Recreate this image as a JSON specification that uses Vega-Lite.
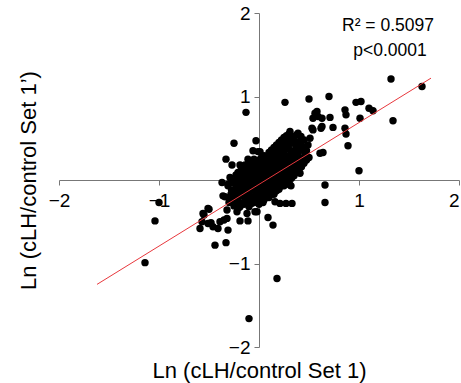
{
  "$schema": "https://vega.github.io/schema/vega-lite/v6.json",
  "width": 400,
  "height": 334,
  "autosize": {"type": "none"},
  "padding": {"left": 59, "top": 13, "right": 2, "bottom": 36},
  "background": "white",
  "config": {"view": {"stroke": null}, "font": "Liberation Sans"},
  "datasets": {
    "pts": [
      {"x":-0.13,"y":0.81},{"x":0.26,"y":0.93},{"x":0.50,"y":0.97},{"x":0.70,"y":1.00},{"x":1.32,"y":1.21},{"x":1.63,"y":1.12},{"x":1.34,"y":0.71},{"x":1.00,"y":0.11},{"x":0.97,"y":0.93},{"x":1.02,"y":0.94},{"x":0.86,"y":0.84},{"x":0.87,"y":0.78},{"x":1.10,"y":0.86},{"x":1.14,"y":0.83},{"x":1.01,"y":0.74},{"x":0.86,"y":0.62},{"x":0.87,"y":0.55},{"x":0.89,"y":0.41},{"x":0.71,"y":0.75},{"x":0.74,"y":0.63},{"x":0.62,"y":0.62},{"x":0.58,"y":0.82},{"x":0.54,"y":0.74},{"x":0.63,"y":0.74},{"x":0.53,"y":0.62},{"x":0.61,"y":0.32},{"x":0.64,"y":0.33},{"x":0.51,"y":0.50},{"x":0.66,"y":-0.06},{"x":0.66,"y":-0.27},{"x":-0.25,"y":0.44},{"x":-0.03,"y":0.47},{"x":-0.11,"y":0.25},{"x":-0.33,"y":0.25},{"x":-0.37,"y":-0.03},{"x":-0.19,"y":0.18},{"x":-1.0,"y":-0.27},{"x":-1.04,"y":-0.49},{"x":-1.14,"y":-0.99},{"x":0.18,"y":-1.18},{"x":-0.10,"y":-1.66},{"x":-0.44,"y":-0.78},{"x":-0.33,"y":-0.75},{"x":-0.59,"y":-0.58},{"x":-0.55,"y":-0.42},{"x":-0.50,"y":-0.35},{"x":-0.48,"y":-0.51},{"x":-0.46,"y":-0.56},{"x":-0.41,"y":-0.58},{"x":-0.31,"y":-0.60},{"x":-0.35,"y":-0.48},{"x":-0.36,"y":-0.19},{"x":-0.32,"y":-0.36},{"x":-0.22,"y":-0.38},{"x":-0.19,"y":-0.49},{"x":-0.11,"y":-0.49},{"x":-0.12,"y":-0.40},{"x":-0.02,"y":-0.38},{"x":0.09,"y":-0.45},{"x":0.14,"y":-0.54},{"x":0.16,"y":-0.26},{"x":0.27,"y":-0.28},{"x":0.32,"y":-0.07},{"x":0.04,"y":-0.27},{"x":0.56,"y":0.80},{"x":0.59,"y":0.76},{"x":0.63,"y":0.64},{"x":0.54,"y":0.60},{"x":-0.27,"y":0.18},{"x":-0.06,"y":0.35},{"x":-0.01,"y":0.34},{"x":-0.22,"y":0.04},{"x":-0.14,"y":0.10},{"x":-0.31,"y":-0.05},{"x":-0.34,"y":-0.20},{"x":-0.51,"y":-0.34},{"x":-0.56,"y":-0.40},{"x":-0.39,"y":-0.50},{"x":-0.32,"y":-0.46},{"x":-0.24,"y":-0.28},{"x":-0.19,"y":-0.32},{"x":-0.04,"y":-0.38},{"x":-0.57,"y":-0.50},{"x":-0.51,"y":-0.52},{"x":0.41,"y":0.08},{"x":0.33,"y":-0.28},{"x":0.21,"y":-0.28},{"x":0.31,"y":-0.06},{"x":0.01,"y":0.34},{"x":0.45,"y":0.48},{"x":0.39,"y":0.56},{"x":0.31,"y":0.58},
      {"x":-0.30,"y":-0.27},{"x":-0.28,"y":-0.17},{"x":-0.31,"y":-0.07},{"x":-0.29,"y":0.03},
      {"x":-0.25,"y":-0.31},{"x":-0.24,"y":-0.21},{"x":-0.26,"y":-0.13},{"x":-0.25,"y":-0.04},{"x":-0.23,"y":0.06},
      {"x":-0.20,"y":-0.33},{"x":-0.21,"y":-0.24},{"x":-0.19,"y":-0.15},{"x":-0.20,"y":-0.07},{"x":-0.18,"y":0.01},{"x":-0.21,"y":0.09},
      {"x":-0.15,"y":-0.29},{"x":-0.14,"y":-0.22},{"x":-0.16,"y":-0.13},{"x":-0.15,"y":-0.05},{"x":-0.13,"y":0.03},{"x":-0.16,"y":0.11},{"x":-0.14,"y":0.18},
      {"x":-0.10,"y":-0.32},{"x":-0.09,"y":-0.24},{"x":-0.11,"y":-0.16},{"x":-0.10,"y":-0.08},{"x":-0.08,"y":0.0},{"x":-0.11,"y":0.07},{"x":-0.09,"y":0.14},{"x":-0.10,"y":0.21},
      {"x":-0.05,"y":-0.27},{"x":-0.04,"y":-0.19},{"x":-0.06,"y":-0.11},{"x":-0.05,"y":-0.03},{"x":-0.03,"y":0.04},{"x":-0.06,"y":0.11},{"x":-0.04,"y":0.18},{"x":-0.05,"y":0.25},
      {"x":0.0,"y":-0.29},{"x":0.01,"y":-0.21},{"x":-0.01,"y":-0.13},{"x":0.0,"y":-0.05},{"x":0.02,"y":0.03},{"x":-0.01,"y":0.10},{"x":0.01,"y":0.17},{"x":0.0,"y":0.24},
      {"x":0.05,"y":-0.24},{"x":0.06,"y":-0.16},{"x":0.04,"y":-0.08},{"x":0.05,"y":0.0},{"x":0.07,"y":0.07},{"x":0.04,"y":0.14},{"x":0.06,"y":0.21},{"x":0.05,"y":0.29},
      {"x":0.10,"y":-0.21},{"x":0.11,"y":-0.13},{"x":0.09,"y":-0.05},{"x":0.10,"y":0.03},{"x":0.12,"y":0.11},{"x":0.09,"y":0.18},{"x":0.11,"y":0.26},{"x":0.10,"y":0.33},
      {"x":0.15,"y":-0.17},{"x":0.16,"y":-0.09},{"x":0.14,"y":-0.01},{"x":0.15,"y":0.07},{"x":0.17,"y":0.15},{"x":0.14,"y":0.23},{"x":0.16,"y":0.31},{"x":0.15,"y":0.39},
      {"x":0.20,"y":-0.11},{"x":0.21,"y":-0.03},{"x":0.19,"y":0.05},{"x":0.20,"y":0.13},{"x":0.22,"y":0.21},{"x":0.19,"y":0.29},{"x":0.21,"y":0.37},{"x":0.20,"y":0.45},
      {"x":0.25,"y":-0.07},{"x":0.26,"y":0.01},{"x":0.24,"y":0.09},{"x":0.25,"y":0.17},{"x":0.27,"y":0.25},{"x":0.24,"y":0.33},{"x":0.26,"y":0.43},{"x":0.25,"y":0.51},
      {"x":0.30,"y":-0.01},{"x":0.31,"y":0.07},{"x":0.29,"y":0.15},{"x":0.30,"y":0.23},{"x":0.32,"y":0.31},{"x":0.29,"y":0.39},{"x":0.31,"y":0.48},{"x":0.30,"y":0.55},
      {"x":0.35,"y":0.05},{"x":0.36,"y":0.13},{"x":0.34,"y":0.21},{"x":0.35,"y":0.31},{"x":0.37,"y":0.41},{"x":0.34,"y":0.50},
      {"x":0.40,"y":0.12},{"x":0.41,"y":0.22},{"x":0.39,"y":0.32},{"x":0.40,"y":0.43},{"x":0.42,"y":0.52},
      {"x":0.45,"y":0.20},{"x":0.46,"y":0.30},{"x":0.44,"y":0.40},
      {"x":0.50,"y":0.27},{"x":0.49,"y":0.42},
      {"x":-0.275,"y":-0.22},{"x":-0.275,"y":-0.12},{"x":-0.275,"y":-0.02},
      {"x":-0.225,"y":-0.27},{"x":-0.225,"y":-0.17},{"x":-0.225,"y":-0.09},{"x":-0.225,"y":0.0},
      {"x":-0.175,"y":-0.28},{"x":-0.175,"y":-0.19},{"x":-0.175,"y":-0.11},{"x":-0.175,"y":-0.03},{"x":-0.175,"y":0.05},{"x":-0.175,"y":0.14},
      {"x":-0.125,"y":-0.26},{"x":-0.125,"y":-0.18},{"x":-0.125,"y":-0.09},{"x":-0.125,"y":-0.01},{"x":-0.125,"y":0.07},{"x":-0.125,"y":0.15},
      {"x":-0.075,"y":-0.28},{"x":-0.075,"y":-0.20},{"x":-0.075,"y":-0.12},{"x":-0.075,"y":-0.04},{"x":-0.075,"y":0.04},{"x":-0.075,"y":0.10},{"x":-0.075,"y":0.17},
      {"x":-0.025,"y":-0.23},{"x":-0.025,"y":-0.15},{"x":-0.025,"y":-0.07},{"x":-0.025,"y":0.0},{"x":-0.025,"y":0.07},{"x":-0.025,"y":0.14},{"x":-0.025,"y":0.21},
      {"x":0.025,"y":-0.25},{"x":0.025,"y":-0.17},{"x":0.025,"y":-0.09},{"x":0.025,"y":-0.01},{"x":0.025,"y":0.06},{"x":0.025,"y":0.13},{"x":0.025,"y":0.20},{"x":0.025,"y":0.27},
      {"x":0.075,"y":-0.20},{"x":0.075,"y":-0.12},{"x":0.075,"y":-0.04},{"x":0.075,"y":0.04},{"x":0.075,"y":0.10},{"x":0.075,"y":0.17},{"x":0.075,"y":0.25},
      {"x":0.125,"y":-0.17},{"x":0.125,"y":-0.09},{"x":0.125,"y":-0.01},{"x":0.125,"y":0.07},{"x":0.125,"y":0.14},{"x":0.125,"y":0.22},{"x":0.125,"y":0.29},{"x":0.125,"y":0.36},
      {"x":0.175,"y":-0.13},{"x":0.175,"y":-0.05},{"x":0.175,"y":0.03},{"x":0.175,"y":0.11},{"x":0.175,"y":0.19},{"x":0.175,"y":0.27},{"x":0.175,"y":0.35},{"x":0.175,"y":0.42},
      {"x":0.225,"y":-0.07},{"x":0.225,"y":0.01},{"x":0.225,"y":0.09},{"x":0.225,"y":0.17},{"x":0.225,"y":0.25},{"x":0.225,"y":0.33},{"x":0.225,"y":0.41},{"x":0.225,"y":0.48},
      {"x":0.275,"y":-0.03},{"x":0.275,"y":0.05},{"x":0.275,"y":0.13},{"x":0.275,"y":0.21},{"x":0.275,"y":0.29},{"x":0.275,"y":0.37},{"x":0.275,"y":0.46},{"x":0.275,"y":0.53},
      {"x":0.325,"y":0.02},{"x":0.325,"y":0.10},{"x":0.325,"y":0.18},{"x":0.325,"y":0.27},{"x":0.325,"y":0.35},{"x":0.325,"y":0.44},{"x":0.325,"y":0.52},
      {"x":0.375,"y":0.09},{"x":0.375,"y":0.17},{"x":0.375,"y":0.26},{"x":0.375,"y":0.36},{"x":0.375,"y":0.46},{"x":0.375,"y":0.54},
      {"x":0.425,"y":0.16},{"x":0.425,"y":0.26},{"x":0.425,"y":0.36},{"x":0.425,"y":0.47},
      {"x":0.475,"y":0.24},{"x":0.475,"y":0.35}
    ],
    "fit": [{"x":-1.62,"y":-1.25},{"x":1.72,"y":1.22}],
    "notes": [{"x":1.29,"y":1.78,"label":"R² = 0.5097"},{"x":1.31,"y":1.48,"label":"p<0.0001"}]
  },
  "layer": [
    {
      "data": {"name": "pts"},
      "mark": {"type": "circle", "size": 55, "opacity": 1, "color": "#000000"},
      "encoding": {
        "x": {"field": "x", "type": "quantitative", "scale": {"domain": [-2, 2], "nice": false, "zero": false},
          "axis": {"title": "Ln (cLH/control Set 1)", "values": [-2, -1, 1, 2], "format": "d", "offset": -167, "grid": false,
            "domainColor": "#777777", "tickColor": "#777777", "tickSize": 5, "labelFontSize": 19, "labelColor": "#000000",
            "labelPadding": 6, "labelFlush": false, "labelOverlap": false,
            "labelAlign": {"condition": {"test": "datum.value == 2", "value": "right"}, "value": "center"},
            "titleFontSize": 22, "titleFontWeight": "normal",
            "titleColor": "#000000", "titleX": 200, "titleY": 197, "titleBaseline": "alphabetic", "titleAnchor": "middle"}},
        "y": {"field": "y", "type": "quantitative", "scale": {"domain": [-2, 2], "nice": false, "zero": false},
          "axis": {"title": "Ln (cLH/control Set 1’)", "values": [-2, -1, 1, 2], "format": "d", "offset": -200, "grid": false,
            "domainColor": "#777777", "tickColor": "#777777", "tickSize": 5, "labelFontSize": 19, "labelColor": "#000000",
            "labelPadding": 4, "labelOverlap": false, "labelFlush": false, "titleFontSize": 22, "titleFontWeight": "normal",
            "titleColor": "#000000", "titleX": -231, "titleY": 167, "titleAngle": -90, "titleBaseline": "middle", "titleAnchor": "middle"}}
      }
    },
    {
      "data": {"name": "fit"},
      "mark": {"type": "line", "color": "#e8383d", "strokeWidth": 1},
      "encoding": {
        "x": {"field": "x", "type": "quantitative", "scale": {"domain": [-2, 2], "nice": false, "zero": false}},
        "y": {"field": "y", "type": "quantitative", "scale": {"domain": [-2, 2], "nice": false, "zero": false}}
      }
    },
    {
      "data": {"name": "notes"},
      "mark": {"type": "text", "fontSize": 17.5, "baseline": "alphabetic", "align": "center", "color": "#000000"},
      "encoding": {
        "x": {"field": "x", "type": "quantitative", "scale": {"domain": [-2, 2], "nice": false, "zero": false}},
        "y": {"field": "y", "type": "quantitative", "scale": {"domain": [-2, 2], "nice": false, "zero": false}},
        "text": {"field": "label"}
      }
    }
  ]
}
